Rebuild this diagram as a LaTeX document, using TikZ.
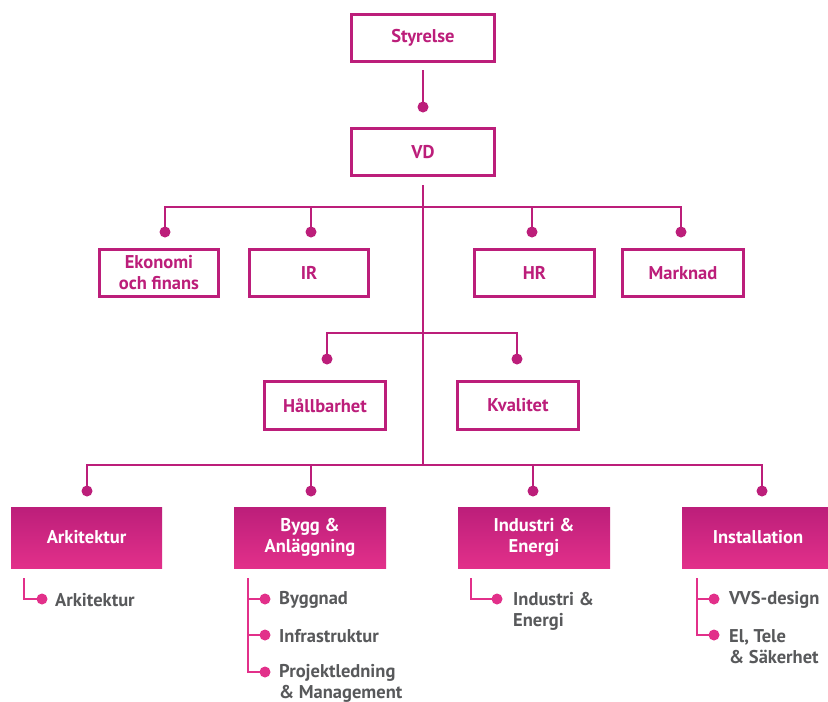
\documentclass[tikz,border=0pt]{standalone}
\usepackage{fontspec}
\setmainfont{PT Sans}
\definecolor{mag}{RGB}{188,30,122}
\definecolor{pinkc}{RGB}{226,48,138}
\definecolor{txtgray}{RGB}{88,89,91}
\begin{document}
\begin{tikzpicture}[x=1pt,y=-1pt,
  lbl/.style={font=\bfseries\fontsize{18.5}{21}\selectfont},
  obox/.style={draw=mag,line width=2.8pt,fill=white,text=mag,lbl,align=center,inner sep=0pt,minimum height=47pt},
  fbox/.style={top color=mag,bottom color=pinkc,draw=none,text=white,lbl,align=center,inner sep=0pt,minimum width=152pt,minimum height=61pt},
  conn/.style={draw=mag,line width=2.6pt},
  sub/.style={draw=pinkc,line width=2.6pt},
  dotm/.style={fill=mag,draw=none,circle,inner sep=0pt,minimum size=11pt},
  dotp/.style={fill=pinkc,draw=none,circle,inner sep=0pt,minimum size=11pt},
  item/.style={lbl,text=txtgray,anchor=west,align=left,inner sep=0pt}]
\useasboundingbox (0,0) rectangle (828,702);
\fill[white] (0,0) rectangle (828,702);
% boxes
\node[obox,minimum width=143pt] (sty) at (423,38) {Styrelse};
\node[obox,minimum width=143pt] (vd) at (423,152) {VD};
\node[obox,minimum width=119pt] (eko) at (159,273) {Ekonomi\\och finans};
\node[obox,minimum width=119pt] (ir) at (309,273) {IR};
\node[obox,minimum width=120pt] (hr) at (534.5,273) {HR};
\node[obox,minimum width=121pt] (mark) at (683,273) {Marknad};
\node[obox,minimum width=121pt,minimum height=48pt] (hall) at (325,405.5) {Hållbarhet};
\node[obox,minimum width=121pt,minimum height=48pt] (kval) at (518,405.5) {Kvalitet};
\node[fbox,minimum width=151pt] (ark) at (86.5,537.5) {Arkitektur};
\node[fbox] (bygg) at (310,537.5) {Bygg \&\\Anläggning};
\node[fbox] (ind) at (534,537.5) {Industri \&\\Energi};
\node[fbox] (inst) at (758,537.5) {Installation};
% Styrelse - VD
\node[dotm] (d0) at (423,107) {};
\draw[conn] (423,70) -- (d0.center);
% VD trunk
\coordinate (t0) at (423,185);
\coordinate (tb) at (423,465);
\draw[conn] (t0) -- (tb);
% row 2
\node[dotm] (d1) at (165,232) {};
\node[dotm] (d2) at (311,232) {};
\node[dotm] (d3) at (532,232) {};
\node[dotm] (d4) at (681,232) {};
\draw[conn] (d1.center) |- (423,207) -| (d4.center);
\draw[conn] (d2.center) -- (311,207);
\draw[conn] (d3.center) -- (532,207);
% row 3
\node[dotm] (d5) at (327,359) {};
\node[dotm] (d6) at (517,359) {};
\draw[conn] (d5.center) |- (423,333) -| (d6.center);
% row 4
\node[dotm] (d7) at (87,491) {};
\node[dotm] (d8) at (311,491) {};
\node[dotm] (d9) at (533,491) {};
\node[dotm] (d10) at (762,491) {};
\draw[conn] (d7.center) |- (tb) -| (d10.center);
\draw[conn] (d8.center) -- (311,465);
\draw[conn] (d9.center) -- (533,465);
% sub items
\node[dotp] (s1) at (42,599) {};
\node[item] (a1) at (55,600) {Arkitektur};
\draw[sub] (24,578) |- (s1.center);
\node[dotp] (s2) at (265,599) {};
\node[dotp] (s3) at (265,635) {};
\node[dotp] (s4) at (265,672) {};
\node[item] (b1) at (279,600) {Byggnad};
\node[item] (b2) at (279,636) {Infrastruktur};
\node[item] (b3) at (279,683) {Projektledning\\\& Management};
\draw[sub] (248,578) |- (s4.center);
\draw[sub] (248,599) -- (s2.center);
\draw[sub] (248,635) -- (s3.center);
\node[dotp] (s5) at (497,599) {};
\node[item] (c1) at (513,611) {Industri \&\\Energi};
\draw[sub] (471,578) |- (s5.center);
\node[dotp] (s6) at (714,599) {};
\node[dotp] (s7) at (714,635) {};
\node[item] (e1) at (729,600) {VVS-design};
\node[item] (e2) at (729,647) {El, Tele\\\& Säkerhet};
\draw[sub] (697,578) |- (s7.center);
\draw[sub] (697,599) -- (s6.center);
\end{tikzpicture}
\end{document}
